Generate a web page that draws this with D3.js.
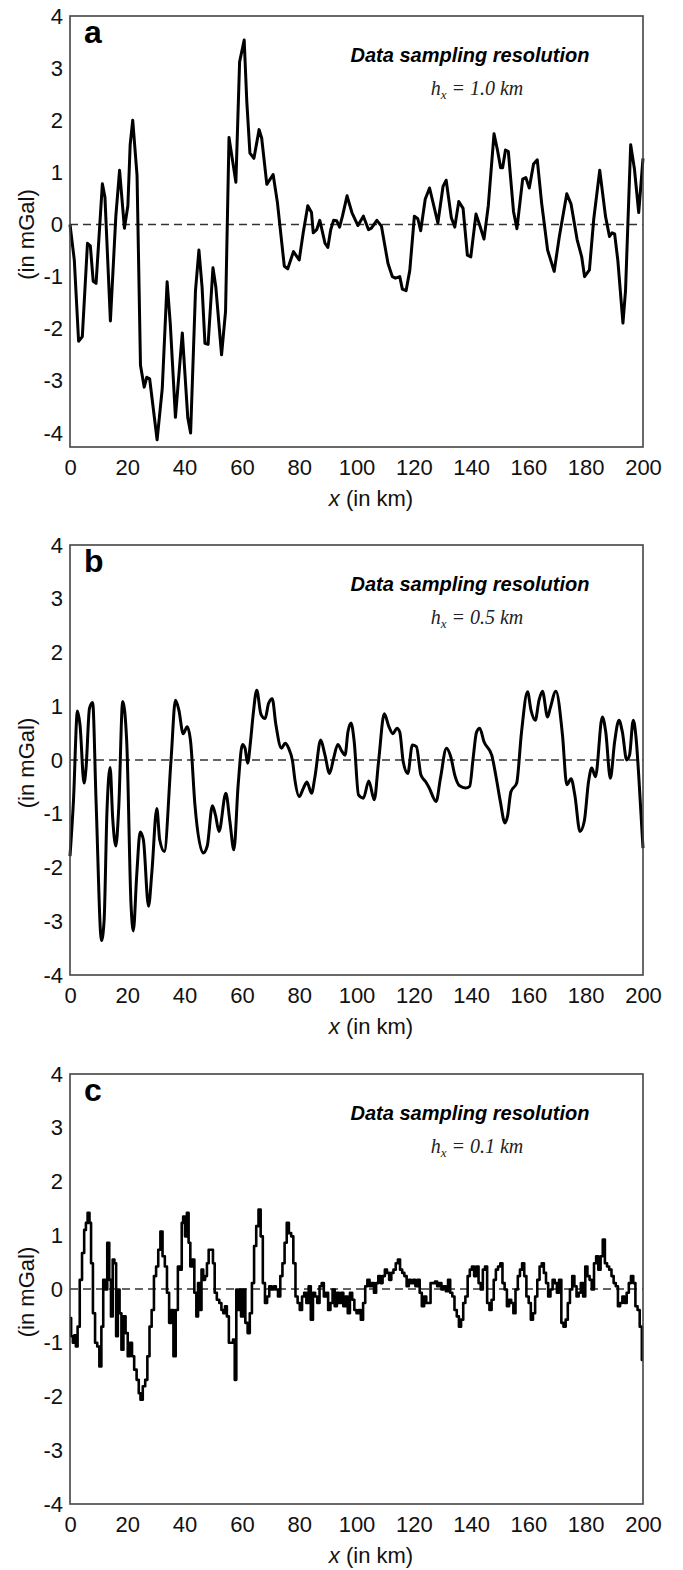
<!DOCTYPE html>
<html>
<head>
<meta charset="utf-8">
<script src="https://cdn.jsdelivr.net/npm/d3@7"></script>
<style>
  body { margin: 0; background: #fff; }
  svg { display: block; font-family: "Liberation Sans", Arial, sans-serif; }
</style>
</head>
<body>
<script>
// tick labels shared by the three panels
var xTicks = [0, 20, 40, 60, 80, 100, 120, 140, 160, 180, 200];
var yTicks = [-4, -3, -2, -1, 0, 1, 2, 3, 4];
var panelLetters = ['a', 'b', 'c'];
var resolutions = ['1.0', '0.5', '0.1'];

// panel a: hx = 1.0 km  [x km, mGal]
var seriesA = [[0,0],[1.5,-0.68],[3,-2.24],[4.3,-2.15],[6.1,-0.36],[7.1,-0.41],[8.1,-1.09],[9.1,-1.13],
  [11.3,0.78],[12.2,0.52],[14.1,-1.85],[16,0.16],[17.3,1.04],[19,-0.07],[20.2,0.36],[21,1.53],[21.9,2.0],
  [23.4,0.94],[24.6,-2.7],[25.9,-3.12],[26.8,-2.93],[27.8,-2.96],[30.4,-4.13],[32.2,-3.15],[33.9,-1.1],
  [35,-1.9],[36.8,-3.7],[39.2,-2.08],[41.1,-3.7],[42.1,-4.0],[43.8,-1.27],[45,-0.49],[46.1,-1.2],
  [47.1,-2.28],[48.2,-2.3],[49.9,-0.83],[50.9,-1.2],[52.9,-2.5],[54.3,-1.66],[55.5,1.67],[56.7,1.24],
  [57.9,0.81],[59.2,3.12],[60.8,3.54],[61.7,2.37],[62.8,1.37],[64.2,1.27],[66,1.82],[66.9,1.66],
  [68.7,0.77],[70.9,0.96],[72.4,0.42],[74.8,-0.8],[76,-0.85],[78,-0.52],[80,-0.68],[81.4,-0.16],
  [83,0.36],[84.3,0.23],[84.9,-0.16],[86.1,-0.1],[87.2,0.08],[89,-0.36],[90,-0.44],[91,-0.1],
  [92,0.08],[93.1,0.07],[94.1,-0.05],[95.1,0.16],[96.7,0.55],[98.4,0.23],[100.5,-0.02],[102.4,0.16],
  [104.2,-0.1],[105.2,-0.07],[107.1,0.08],[108.7,-0.03],[111,-0.75],[112.5,-1.0],[113.6,-1.03],
  [115.1,-1.0],[116,-1.24],[117.3,-1.27],[118.6,-0.88],[120.2,0.16],[121.4,0.11],[122.4,-0.12],
  [124,0.49],[125.5,0.7],[128.4,0.03],[130.2,0.73],[131.3,0.85],[133.1,0.13],[134.3,-0.05],
  [135.7,0.44],[137.2,0.31],[138.7,-0.59],[139.9,-0.62],[141.7,0.2],[143.1,-0.03],[144.5,-0.28],
  [146,0.36],[148,1.74],[149.2,1.43],[150.3,1.09],[151,1.09],[152,1.43],[153,1.4],[154.8,0.25],
  [156,-0.08],[158,0.87],[159.1,0.9],[160.3,0.7],[161.8,1.16],[163.1,1.24],[164.6,0.42],[166.7,-0.49],
  [169,-0.9],[170.8,-0.23],[173.4,0.59],[174.9,0.39],[177,-0.29],[178.6,-0.62],[179.6,-1.0],
  [181.3,-0.87],[182.8,0.1],[184.9,1.04],[186.9,0.16],[188.3,-0.23],[189.2,-0.16],[190.1,-0.18],
  [191.2,-0.68],[193,-1.89],[193.9,-1.27],[195.7,1.53],[197,1.07],[198.5,0.23],[200,1.27]];

// panel b: hx = 0.5 km
var seriesB = [[0,-1.79],[1.2,-0.77],[2.6,0.91],[3.5,0.65],[4.9,-0.43],[5.6,-0.15],[6.8,0.96],[7.9,1.07],
  [9.1,-0.77],[11,-3.36],[11.9,-2.99],[12.9,-0.96],[14,-0.14],[14.9,-1.08],[16,-1.6],[17,-0.9],
  [18.4,1.09],[19.8,0.34],[21.3,-2.69],[22.1,-3.18],[23.3,-2.13],[24.5,-1.34],[25.6,-1.48],
  [27.4,-2.72],[28.6,-2.07],[30.3,-0.9],[31.3,-1.48],[32.9,-1.7],[35.3,0.03],[36.8,1.11],[38,0.93],
  [39.5,0.49],[40.9,0.62],[42.1,0.34],[43.6,-0.83],[46.5,-1.73],[47.9,-1.6],[49.7,-0.85],[50.8,-1.03],
  [52,-1.33],[54.4,-0.62],[55.8,-1.14],[57.2,-1.67],[58.7,-0.46],[60.2,0.29],[61.1,0.22],[62,-0.06],
  [63,0.34],[63.9,0.83],[65.2,1.3],[66.6,0.86],[68.1,0.77],[69.3,1.05],[70.6,1.14],[71.8,0.68],
  [73.8,0.22],[75.1,0.31],[76.3,0.22],[77.7,-0.03],[78.5,-0.37],[80,-0.68],[81.5,-0.52],[82.7,-0.41],
  [84.3,-0.62],[85.5,-0.31],[87.5,0.37],[89,0.09],[90.6,-0.25],[92,0.03],[93.5,0.29],[94.8,0.17],
  [96,0.09],[97,0.52],[98.1,0.69],[99.2,0.34],[100.7,-0.65],[102.4,-0.71],[104.3,-0.39],[106.2,-0.74],
  [107.7,-0.03],[109.7,0.86],[111.3,0.62],[112.7,0.49],[114.1,0.59],[115.1,0.52],[116.3,-0.03],
  [117.9,-0.25],[119.5,0.28],[120.9,0.25],[122.5,-0.28],[124.1,-0.4],[125.3,-0.51],[127.8,-0.77],
  [129.3,-0.34],[131.4,0.22],[132.9,0.06],[134.3,-0.28],[136,-0.48],[138.1,-0.52],[139.5,-0.49],
  [140.7,0.03],[141.9,0.52],[143,0.59],[144.5,0.34],[147.2,0.09],[148.7,-0.31],[150.2,-0.77],
  [151.8,-1.17],[152.7,-1.05],[153.9,-0.59],[155.9,-0.43],[157.6,0.52],[159.7,1.27],[160.9,0.93],
  [162.4,0.74],[163.7,1.11],[164.9,1.28],[166.7,0.8],[167.6,0.96],[169.6,1.28],[171.9,0.46],
  [173.4,-0.46],[174.9,-0.35],[176.2,-0.65],[178,-1.33],[179.5,-1.14],[181,-0.4],[182.1,-0.15],
  [183.4,-0.31],[185.8,0.8],[187,0.52],[188.6,-0.34],[190.1,0.34],[191.6,0.74],[192.8,0.52],
  [194.3,0],[195.3,0.09],[196.6,0.74],[197.6,0.4],[198.5,-0.28],[200,-1.64]];

// panel c: hx = 0.1 km
var seriesC = [[0,-0.54],[0.8,-0.88],[1.2,-1.0],[1.8,-0.86],[2.3,-1.07],[3,-0.7],[3.8,0.17],[4.6,0.67],
  [5.3,1.1],[5.8,1.23],[6.5,1.42],[7.1,1.23],[7.6,0.48],[8.4,-0.45],[9.1,-1.0],[9.9,-1.07],[10.6,-1.44],
  [11.3,-0.7],[11.9,0.17],[12.6,-0.01],[13.4,0.86],[14,0.17],[14.6,-0.51],[15.2,0.55],[15.8,0.48],
  [16.4,-0.88],[17,-0.01],[17.6,-0.45],[18.3,-1.13],[19,-0.51],[19.8,-0.82],[20.5,-1.25],[21.3,-1.0],
  [22,-1.25],[22.8,-1.5],[23.7,-1.69],[24.3,-1.94],[24.9,-2.06],[25.9,-1.81],[26.6,-1.69],[27.4,-1.25],
  [28.1,-0.7],[28.9,-0.39],[29.7,0.24],[30.4,0.42],[31.2,0.73],[31.9,1.07],[32.7,0.61],[33.5,0.42],
  [34.2,-0.07],[35,-0.63],[35.7,-0.39],[36.5,-1.25],[37.3,-0.39],[38,0.42],[38.8,0.36],[39.2,1.23],
  [39.8,1.35],[40.5,0.98],[41.1,1.42],[41.7,0.86],[42.3,0.42],[43,0.55],[43.8,-0.07],[44.4,-0.51],
  [45,0.11],[45.6,-0.39],[46.2,0.36],[46.8,0.17],[47.5,0.24],[48.1,0.48],[48.7,0.73],[49.6,0.73],
  [50.2,0.48],[50.8,-0.07],[51.7,-0.2],[52.5,-0.26],[53.2,-0.39],[53.8,-0.45],[54.4,-0.32],[55.1,-0.51],
  [55.8,-1.0],[56.6,-1.0],[57.2,-0.94],[57.8,-1.69],[58.3,-0.01],[58.7,-0.39],[59.3,-0.01],[60.1,-0.51],
  [60.8,-0.01],[61.6,-0.63],[62.4,-0.82],[63.1,-0.45],[63.9,0.11],[64.6,0.8],[65.4,1.17],[66.2,1.48],
  [66.9,0.98],[67.7,0.11],[68.4,-0.26],[69.2,-0.14],[69.9,0.05],[70.7,-0.01],[71.5,0.05],[72.2,-0.01],
  [73,-0.14],[73.8,0.24],[74.5,0.48],[75.3,0.86],[76,1.23],[76.8,1.04],[77.6,0.98],[78.3,0.48],
  [79.1,-0.14],[79.8,-0.26],[80.6,-0.39],[81.4,-0.14],[82.1,-0.07],[82.9,-0.26],[83.7,0.05],[84.4,-0.57],
  [85.2,-0.07],[85.9,-0.14],[86.7,-0.26],[87.5,0.05],[88.2,0.11],[89,-0.14],[89.7,-0.07],[90.5,-0.39],
  [91.3,-0.26],[92,-0.01],[92.8,-0.32],[93.5,-0.07],[94.3,-0.26],[95,-0.07],[95.8,-0.32],[96.6,-0.14],
  [97.3,-0.45],[98.1,-0.07],[98.9,-0.2],[99.6,-0.39],[100.4,-0.45],[101.1,-0.39],[101.9,-0.57],
  [102.7,-0.26],[103.4,0.05],[104.2,0.17],[104.9,0.05],[105.7,0.11],[106.5,-0.07],[107.2,0.11],
  [108,0.24],[108.7,0.11],[109.5,0.24],[110.3,0.36],[111,0.3],[111.8,0.17],[112.5,0.3],[113.3,0.36],
  [114.1,0.48],[114.8,0.55],[115.6,0.36],[116.3,0.3],[117.1,0.24],[117.9,0.05],[118.6,0.17],
  [119.4,0.11],[120.2,0.17],[120.9,0.05],[121.7,0.17],[122.4,-0.07],[123.2,-0.32],[124,-0.14],
  [124.7,-0.26],[125.5,-0.26],[126.2,0.11],[127,0.11],[127.8,0.14],[128.5,0.05],[129.3,0.11],
  [130,-0.01],[130.8,0.05],[131.6,-0.04],[132.3,0.17],[133.1,-0.07],[133.8,-0.14],[134.6,-0.39],
  [135.4,-0.51],[136.1,-0.7],[136.9,-0.57],[137.6,-0.26],[138.4,-0.14],[139.2,0.24],[139.9,0.36],
  [140.7,0.42],[141.4,0.24],[142.2,0.42],[143,0.11],[143.7,-0.01],[144.5,0.36],[145.2,0.42],
  [146,-0.26],[146.8,-0.39],[147.5,-0.2],[148.3,0.17],[149,0.36],[149.8,0.42],[150.6,0.48],[151.3,0.11],
  [152.1,-0.01],[152.9,-0.32],[153.6,-0.2],[154.4,-0.26],[155.1,-0.45],[155.9,-0.01],[156.7,0.24],
  [157.4,0.36],[158.2,0.48],[158.9,0.24],[159.7,-0.14],[160.5,-0.26],[161.2,-0.57],[162,-0.45],
  [162.7,-0.14],[163.5,0.17],[164.3,0.42],[165,0.48],[165.8,0.3],[166.5,0.11],[167.3,-0.14],
  [168.1,-0.01],[168.8,0.17],[169.6,0.11],[170.3,-0.07],[171.1,0.17],[171.9,-0.63],[172.6,-0.7],
  [173.4,-0.57],[174.1,-0.26],[174.9,-0.01],[175.7,0.24],[176.4,0.05],[177.2,-0.14],[177.9,-0.07],
  [178.7,0.11],[179.5,-0.14],[180.2,0.42],[181,0.24],[181.7,0.17],[182.5,-0.01],[183.3,0.48],
  [184,0.61],[184.8,0.36],[185.6,0.61],[186.3,0.92],[187.1,0.48],[187.8,0.42],[188.6,0.36],
  [189.4,0.24],[190.1,0.11],[190.9,0.05],[191.6,-0.32],[192.4,-0.26],[193.2,-0.14],[193.9,-0.26],
  [194.7,-0.07],[195.4,0.11],[196.2,0.24],[197,0.11],[197.7,-0.32],[198.5,-0.39],[199.2,-0.7],[200,-1.32]];

var allSeries = [seriesA, seriesB, seriesC];

// layout of each panel box (px)
var panels = [
  { top: 16,   yMax: 16,   yMin: 433,  bottom: 447,  curve: d3.curveLinear,    lw: 3 },
  { top: 545,  yMax: 545,  yMin: 975,  bottom: 975,  curve: d3.curveMonotoneX, lw: 3 },
  { top: 1074, yMax: 1074, yMin: 1504, bottom: 1504, curve: d3.curveStep,      lw: 2.6 }
];
var left = 70, right = 643;

var svg = d3.select('body').append('svg')
    .attr('width', 683)
    .attr('height', 1570);

panels.forEach(function (p, i) {
    var x = d3.scaleLinear().domain([0, 200]).range([left, right]);
    var y = d3.scaleLinear().domain([-4, 4]).range([p.yMin, p.yMax]);
    var g = svg.append('g');

    // zero reference line
    g.append('line')
        .attr('x1', x(0)).attr('x2', x(200))
        .attr('y1', y(0)).attr('y2', y(0))
        .attr('stroke', '#333')
        .attr('stroke-width', 1.5)
        .attr('stroke-dasharray', '8,5');

    var line = d3.line()
        .x(d => x(d[0]))
        .y(d => y(d[1]))
        .curve(p.curve);

    g.append('path')
        .datum(allSeries[i])
        .attr('d', line)
        .attr('fill', 'none')
        .attr('stroke', '#000')
        .attr('stroke-width', p.lw)
        .attr('stroke-linejoin', 'round');

    // frame
    g.append('rect')
        .attr('x', left).attr('y', p.top)
        .attr('width', right - left).attr('height', p.bottom - p.top)
        .attr('fill', 'none')
        .attr('stroke', '#444')
        .attr('stroke-width', 1.6);

    // axes (labels only)
    var yAxis = g.append('g')
        .attr('transform', 'translate(' + left + ',0)')
        .call(d3.axisLeft(y).tickValues(yTicks).tickSize(0).tickPadding(7).tickFormat(d3.format('d')));
    var xAxis = g.append('g')
        .attr('transform', 'translate(0,' + p.bottom + ')')
        .call(d3.axisBottom(x).tickValues(xTicks).tickSize(0).tickPadding(12));
    [xAxis, yAxis].forEach(function (a) {
        a.select('.domain').remove();
        a.selectAll('text')
            .attr('font-family', '"Liberation Sans", Arial, sans-serif')
            .attr('font-size', 22)
            .attr('fill', '#111');
    });
    yAxis.selectAll('text').text(d => d < 0 ? '-' + Math.abs(d) : d);

    // axis titles
    var xt = g.append('text')
        .attr('x', 371)
        .attr('y', p.bottom + 59)
        .attr('text-anchor', 'middle')
        .attr('font-size', 22)
        .attr('fill', '#111');
    xt.append('tspan').attr('font-style', 'italic').text('x');
    xt.append('tspan').text(' (in km)');

    g.append('text')
        .attr('transform', 'translate(34,' + ((p.top + p.bottom) / 2 + 3) + ') rotate(-90)')
        .attr('text-anchor', 'middle')
        .attr('font-size', 22)
        .attr('fill', '#111')
        .text('(in mGal)');

    // panel letter
    g.append('text')
        .attr('x', 84)
        .attr('y', p.top + 27)
        .attr('font-size', 32)
        .attr('font-weight', 'bold')
        .text(panelLetters[i]);

    // annotation
    g.append('text')
        .attr('x', 470)
        .attr('y', p.top + 46)
        .attr('text-anchor', 'middle')
        .attr('font-size', 20)
        .attr('font-weight', 'bold')
        .attr('font-style', 'italic')
        .text('Data sampling resolution');

    var h = g.append('text')
        .attr('x', 477)
        .attr('y', p.top + 79)
        .attr('text-anchor', 'middle')
        .attr('font-family', '"Liberation Serif", "Times New Roman", serif')
        .attr('font-style', 'italic')
        .attr('font-size', 20)
        .attr('fill', '#222');
    h.append('tspan').text('h');
    h.append('tspan').attr('font-size', 13).attr('dy', 4).text('x');
    h.append('tspan').attr('dy', -4).text(' = ' + resolutions[i] + ' km');
});
</script>
</body>
</html>
